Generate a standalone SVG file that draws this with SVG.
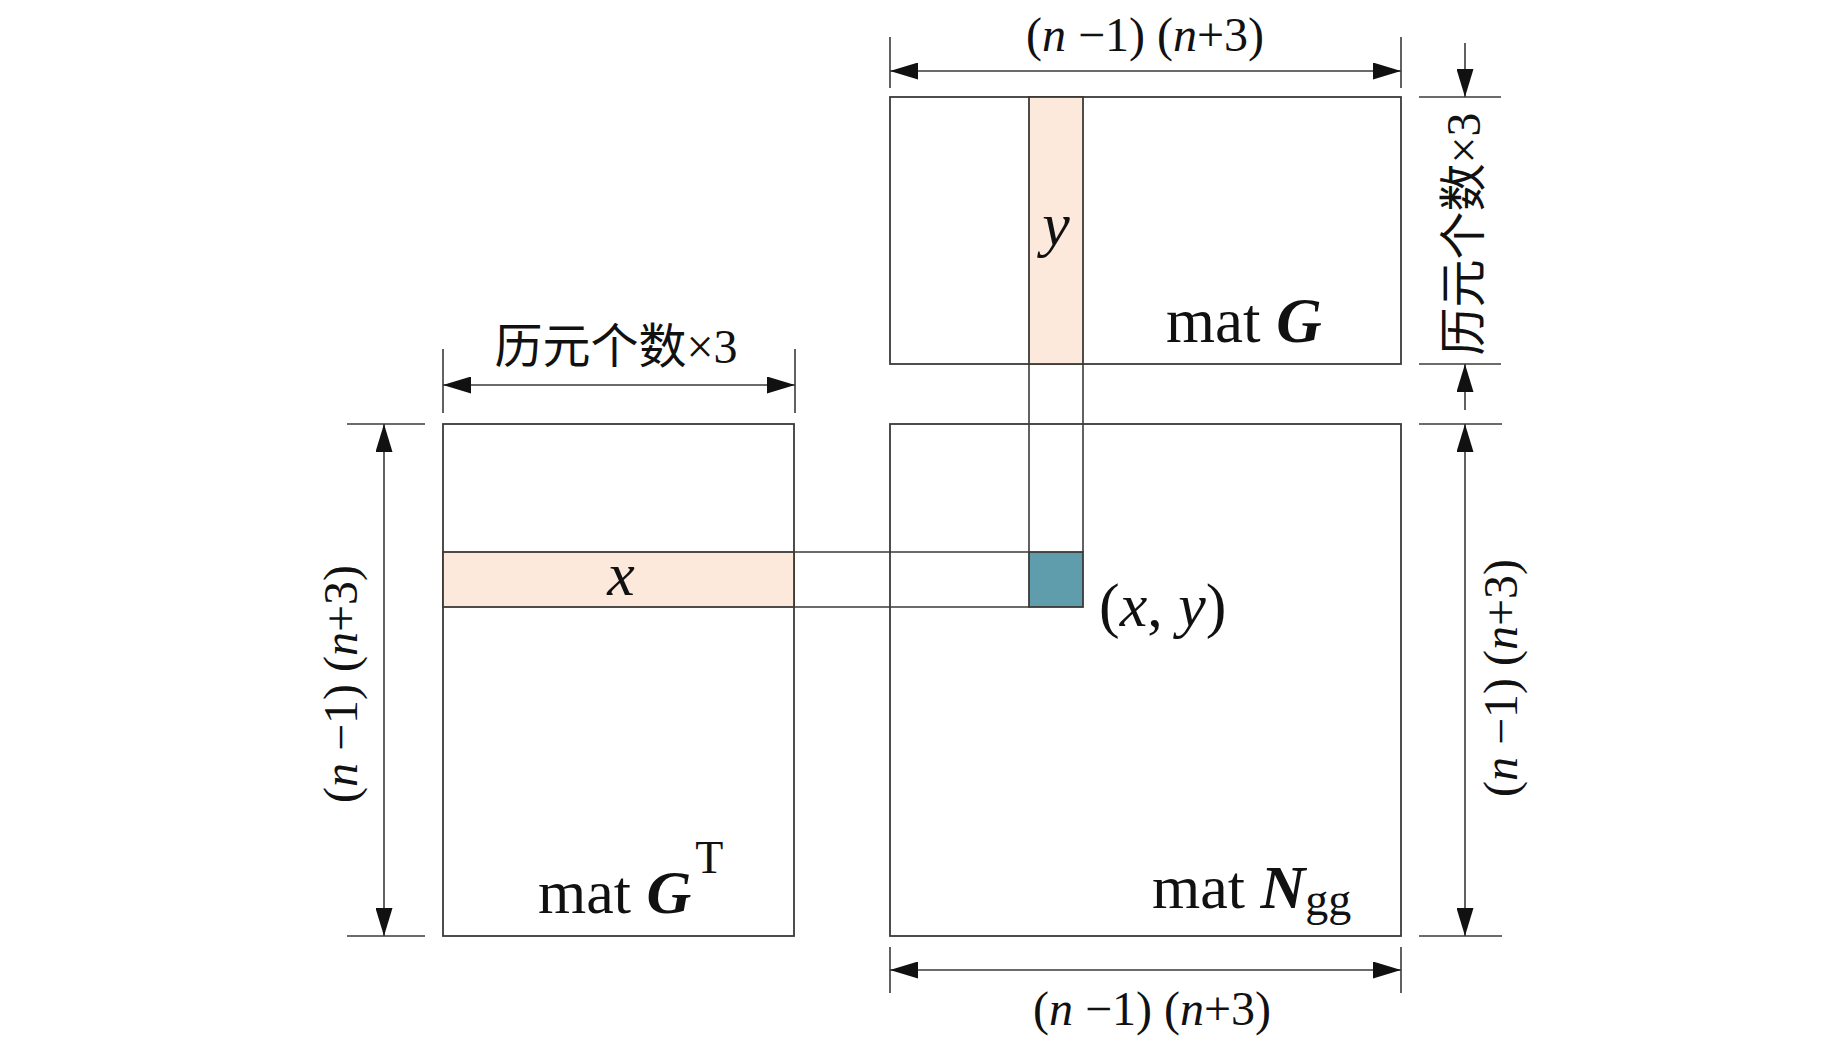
<svg xmlns="http://www.w3.org/2000/svg" width="1843" height="1045" viewBox="0 0 1843 1045">
<defs>
<style>
.box{fill:none;stroke:#3c3a38;stroke-width:1.8}
.ln{fill:none;stroke:#3c3a38;stroke-width:1.6}
.dim{fill:none;stroke:#3c3a38;stroke-width:1.6}
.pale{fill:#fce9dc;stroke:#3c3a38;stroke-width:1.8}
.teal{fill:#5f9dac;stroke:#3c3a38;stroke-width:1.8}
.t{font-family:"Liberation Serif","Times New Roman",serif;fill:#111}
.dl{font-size:48px}
.cjk{font-family:"Liberation Serif","Noto Sans CJK SC",serif;font-size:48px;fill:#111}
.it{font-style:italic}
.bi{font-style:italic;font-weight:bold}
</style>
<marker id="ah" viewBox="0 0 28 17" refX="28" refY="8.5" markerWidth="28" markerHeight="17" markerUnits="userSpaceOnUse" orient="auto-start-reverse">
<path d="M0,0 L28,8.5 L0,17 z" fill="#111"/>
</marker>
</defs>
<rect width="1843" height="1045" fill="#fff"/>

<g id="matGT">
<rect class="box" x="443" y="424" width="351" height="512"/>
<rect class="pale" x="443" y="552" width="351" height="55"/>
<text class="t it" x="621" y="595" font-size="62" text-anchor="middle">x</text>
<text class="t" x="538" y="913" font-size="62">mat <tspan class="bi">G</tspan><tspan font-size="46" dx="4" dy="-40">T</tspan></text>
</g>

<g id="matG">
<rect class="box" x="890" y="97" width="511" height="267"/>
<rect class="pale" x="1029" y="97" width="54" height="267"/>
<text class="t it" x="1056" y="245" font-size="62" text-anchor="middle">y</text>
<text class="t" x="1166" y="342" font-size="63">mat <tspan class="bi">G</tspan></text>
</g>

<g id="matN">
<rect class="box" x="890" y="424" width="511" height="512"/>
<text class="t" x="1152" y="908" font-size="62">mat <tspan class="bi">N</tspan><tspan font-size="46" dy="7">gg</tspan></text>
</g>

<g id="cell">
<rect class="teal" x="1029" y="552" width="54" height="55"/>
<text class="t" x="1099" y="626" font-size="62">(<tspan class="it">x</tspan>, <tspan class="it">y</tspan>)</text>
</g>

<g id="connectors">
<line class="ln" x1="794" y1="552" x2="1029" y2="552"/>
<line class="ln" x1="794" y1="607" x2="1029" y2="607"/>
<line class="ln" x1="1029" y1="364" x2="1029" y2="552"/>
<line class="ln" x1="1083" y1="364" x2="1083" y2="552"/>
</g>

<g id="dim-top">
<line class="dim" x1="890" y1="37" x2="890" y2="88"/>
<line class="dim" x1="1401" y1="37" x2="1401" y2="88"/>
<line class="dim" x1="890" y1="71" x2="1401" y2="71" marker-start="url(#ah)" marker-end="url(#ah)"/>
<text class="t dl" x="1145" y="51" text-anchor="middle">(<tspan class="it">n</tspan> −1) (<tspan class="it">n</tspan>+3)</text>
</g>

<g id="dim-G-right">
<line class="dim" x1="1419" y1="97" x2="1501" y2="97"/>
<line class="dim" x1="1419" y1="364" x2="1501" y2="364"/>
<line class="dim" x1="1465" y1="43" x2="1465" y2="97" marker-end="url(#ah)"/>
<line class="dim" x1="1465" y1="410" x2="1465" y2="364" marker-end="url(#ah)"/>
<text class="cjk" transform="translate(1463,234) rotate(-90)" x="0" y="17" text-anchor="middle">历元个数×3</text>
</g>

<g id="dim-GT-top">
<line class="dim" x1="443" y1="349" x2="443" y2="413"/>
<line class="dim" x1="795" y1="349" x2="795" y2="413"/>
<line class="dim" x1="443" y1="385" x2="795" y2="385" marker-start="url(#ah)" marker-end="url(#ah)"/>
<text class="cjk" x="616" y="363" text-anchor="middle">历元个数×3</text>
</g>

<g id="dim-GT-left">
<line class="dim" x1="347" y1="424" x2="425" y2="424"/>
<line class="dim" x1="347" y1="936" x2="425" y2="936"/>
<line class="dim" x1="384" y1="424" x2="384" y2="936" marker-start="url(#ah)" marker-end="url(#ah)"/>
<text class="t dl" transform="translate(345,684) rotate(-90)" x="0" y="12" text-anchor="middle">(<tspan class="it">n</tspan> −1) (<tspan class="it">n</tspan>+3)</text>
</g>

<g id="dim-N-right">
<line class="dim" x1="1419" y1="424" x2="1502" y2="424"/>
<line class="dim" x1="1419" y1="936" x2="1502" y2="936"/>
<line class="dim" x1="1465" y1="424" x2="1465" y2="936" marker-start="url(#ah)" marker-end="url(#ah)"/>
<text class="t dl" transform="translate(1505,678) rotate(-90)" x="0" y="12" text-anchor="middle">(<tspan class="it">n</tspan> −1) (<tspan class="it">n</tspan>+3)</text>
</g>

<g id="dim-N-bottom">
<line class="dim" x1="890" y1="947" x2="890" y2="993"/>
<line class="dim" x1="1401" y1="947" x2="1401" y2="993"/>
<line class="dim" x1="890" y1="970" x2="1401" y2="970" marker-start="url(#ah)" marker-end="url(#ah)"/>
<text class="t dl" x="1152" y="1025" text-anchor="middle">(<tspan class="it">n</tspan> −1) (<tspan class="it">n</tspan>+3)</text>
</g>
</svg>
